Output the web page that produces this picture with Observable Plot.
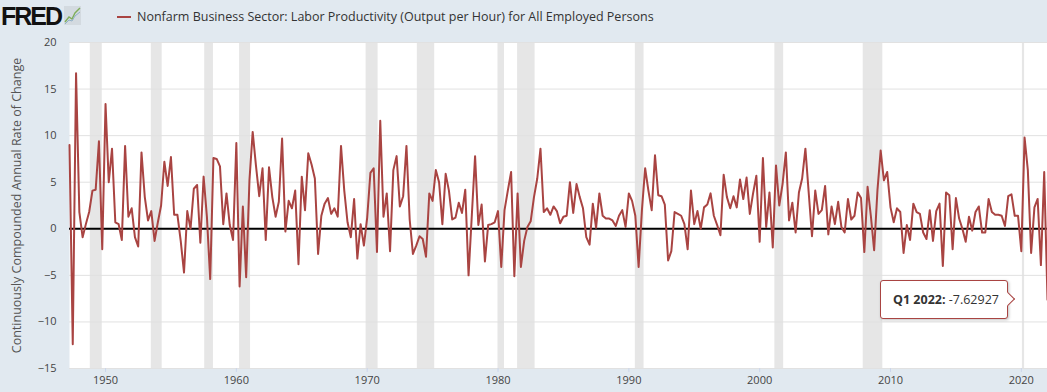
<!DOCTYPE html>
<html>
<head>
<meta charset="utf-8">
<script src="https://cdn.jsdelivr.net/npm/d3@7"></script>
<script src="https://cdn.jsdelivr.net/npm/@observablehq/plot@0.6"></script>
<style>
  html, body { margin: 0; padding: 0; background: #e1e9f0; }
  #wrap { position: relative; width: 1047px; height: 392px; background: #e1e9f0; font-family: "Open Sans", sans-serif; overflow: hidden; }
  #header { height: 34px; position: relative; }
  #logo { position: absolute; left: 1px; top: 2px; font-family: "Liberation Sans", Arial, sans-serif; font-weight: 900; font-size: 25px; letter-spacing: -2px; color: #111; }
  #icon { position: absolute; left: 64px; top: 4px; }
  #legend { position: absolute; left: 117px; top: 8px; font-size: 12.5px; color: #333; white-space: nowrap; }
  #legend .sw { display: inline-block; width: 14px; height: 2px; background: #a94442; vertical-align: middle; margin-right: 6px; position: relative; top: -1px; }
  #tip { position: absolute; background: #fff; border: 1px solid #a94442; border-radius: 3px; box-shadow: 1px 1px 3px rgba(0,0,0,0.25); font-size: 12.5px; color: #333; box-sizing: border-box; padding: 0 0 0 12px; white-space: nowrap; }
  #tip .arrow { position: absolute; right: -6px; top: 13px; width: 9px; height: 9px; background: #fff; border-right: 1px solid #a94442; border-top: 1px solid #a94442; transform: rotate(45deg); }
</style>
</head>
<body>
<div id="wrap">
  <div id="header">
    <div id="logo">FRED</div>
    <svg id="icon" width="17" height="22" viewBox="0 0 17 22">
      <rect x="0" y="2" width="17" height="19" fill="#d3dae0"/>
      <polyline points="1,18 5,13 8,15 11,9 16,4" fill="none" stroke="#7fae5a" stroke-width="1.4"/>
      <polyline points="1,20 5,16 8,17 11,12 16,8" fill="none" stroke="#8fb0c8" stroke-width="1"/>
    </svg>
    <div id="legend"><span class="sw"></span>Nonfarm Business Sector: Labor Productivity (Output per Hour) for All Employed Persons</div>
  </div>
  <div id="chart"></div>
</div>
<script>
// Quarterly series, first observation 1947 Q2, last 2022 Q1
const firstObservation = "1947-04-01";
const productivity = [
  9.0, -12.4, 16.7, 1.8, -0.9, 0.5, 1.8, 4.1, 4.2, 9.4,
  -2.2, 13.4, 5.0, 8.6, 0.7, 0.5, -1.2, 8.9, 1.3, 2.2,
  -0.9, -1.9, 8.2, 3.4, 0.9, 1.9, -1.3, 0.7, 2.5, 7.2,
  4.6, 7.7, 1.5, 1.5, -1.3, -4.7, 1.9, 0.0, 4.3, 4.7,
  -1.5, 5.6, 1.3, -5.4, 7.6, 7.5, 6.7, 0.5, 3.8, 0.4,
  -1.2, 9.2, -6.2, 2.4, -5.2, 5.2, 10.4, 6.8, 3.5, 6.5,
  -1.2, 6.6, 3.4, 1.3, 2.9, 9.7, -0.3, 3.0, 2.2, 4.1,
  -3.8, 5.6, 2.0, 8.1, 6.9, 5.4, -2.7, 1.4, 2.7, 3.3,
  1.6, 2.2, 1.3, 8.9, 4.1, 0.7, -0.9, 3.2, -3.2, 0.5,
  -1.8, 1.2, 6.0, 6.5, -2.5, 11.6, 1.3, 3.8, -2.4, 6.3,
  7.8, 2.4, 3.5, 8.9, 1.0, -2.7, -1.8, -0.8, -1.1, -3.0,
  3.8, 3.0, 6.3, 5.0, 0.5, 5.9, 4.1, 1.0, 1.2, 2.8,
  1.7, 4.2, -5.0, 1.5, 7.8, 0.4, 2.6, -3.5, 0.4, 0.5,
  0.7, 1.9, -4.1, 2.0, 4.1, 6.1, -5.1, 3.8, -4.1, -1.3,
  0.2, 0.8, 3.4, 5.4, 8.6, 1.8, 2.2, 1.5, 2.4, 1.9,
  0.6, 1.3, 1.4, 5.0, 1.7, 4.8, 3.4, 2.2, -0.9, -1.7,
  2.7, 0.1, 3.8, 1.4, 1.1, 1.1, 0.9, 0.3, 1.4, 2.0,
  0.2, 3.8, 3.0, 1.4, -4.1, 2.0, 6.5, 4.1, 2.0, 7.9,
  3.6, 3.5, 2.6, -3.4, -2.4, 1.8, 1.6, 1.4, 0.5, -2.2,
  4.1, 0.5, 1.9, 0.0, 2.3, 2.6, 3.8, 1.4, 0.4, -0.7,
  5.8, 3.4, 2.2, 3.5, 2.3, 5.3, 3.2, 5.5, 1.6, 3.8,
  5.7, -1.4, 7.6, 0.2, 3.9, -2.0, 6.8, 2.5, 4.8, 8.2,
  0.9, 2.8, -0.4, 3.9, 5.4, 8.6, 3.9, -0.8, 4.1, 1.6,
  2.0, 4.6, -0.6, 2.4, 0.5, 2.9, 0.2, -0.4, 3.2, 1.0,
  1.4, 3.9, 3.3, -2.5, 4.5, 1.4, -2.3, 4.1, 8.4, 5.2,
  6.1, 2.3, 0.7, 2.2, 1.8, -2.6, 0.4, -1.2, 2.7, 1.8,
  1.6, -0.4, -1.1, 2.0, -1.3, 1.9, 2.7, -4.0, 3.9, 3.6,
  -2.2, 3.3, 1.1, 0.0, -1.4, 1.3, -0.2, 1.8, 2.4, -0.4,
  -0.4, 3.2, 1.8, 1.5, 1.5, 1.4, 0.3, 3.5, 3.7, 1.4,
  1.4, -2.4, 9.8, 6.3, -2.6, 2.3, 3.2, -3.9, 6.1, -7.62927
];
const recessionStarts = ["1948-11-01","1953-07-01","1957-08-01","1960-04-01","1969-12-01","1973-11-01","1980-01-01","1981-07-01","1990-07-01","2001-03-01","2007-12-01","2020-02-01"];
const recessionEnds   = ["1949-10-01","1954-05-01","1958-04-01","1961-02-01","1970-11-01","1975-03-01","1980-07-01","1982-11-01","1991-03-01","2001-11-01","2009-06-01","2020-04-01"];
const xTickYears = [1950, 1960, 1970, 1980, 1990, 2000, 2010, 2020];
const yTicks = [-15, -10, -5, 0, 5, 10, 15, 20];
const seriesTitle = "Nonfarm Business Sector: Labor Productivity (Output per Hour) for All Employed Persons";
const yLabel = "Continuously Compounded Annual Rate of Change";

const start = new Date(firstObservation + "T00:00:00Z");
const series = productivity.map((v, i) => ({date: d3.utcMonth.offset(start, 3 * i), value: v}));
const recessions = recessionStarts.map((s, i) => ({start: new Date(s + "T00:00:00Z"), end: new Date(recessionEnds[i] + "T00:00:00Z")}));
const last = series[series.length - 1];
const xTickDates = xTickYears.map(y => new Date(Date.UTC(y, 0, 1)));

const chart = Plot.plot({
  width: 1047,
  height: 358,
  marginLeft: 69,
  marginRight: 0,
  marginTop: 8,
  marginBottom: 24,
  style: {background: "transparent", fontFamily: "'Open Sans', sans-serif", fontSize: "11px", color: "#444"},
  x: {type: "utc", domain: [start, last.date], label: null},
  y: {domain: [-15, 20], label: yLabel},
  marks: [
    Plot.frame({fill: "white", stroke: null}),
    Plot.rect(recessions, {x1: "start", x2: "end", fill: "#e6e6e6"}),
    Plot.gridY(yTicks, {stroke: "#e1e1e1", strokeOpacity: 1}),
    Plot.ruleY([0], {stroke: "#000", strokeWidth: 2}),
    Plot.line(series, {x: "date", y: "value", stroke: "#a94442", strokeWidth: 2, curve: "linear"}),
    Plot.axisX({ticks: xTickDates, tickFormat: d3.utcFormat("%Y"), tickSize: 4, tickPadding: 4, stroke: "#ccd6eb", fill: "#444", fontSize: 11, label: null}),
    Plot.axisY({ticks: yTicks, tickSize: 0, tickPadding: 13, fill: "#444", fontSize: 11, label: yLabel, labelAnchor: "center", labelArrow: "none", labelOffset: 57})
  ]
});
chart.querySelectorAll("text").forEach(t => t.setAttribute("fill", "#444"));
document.getElementById("chart").appendChild(chart);

// y-axis label font
chart.querySelectorAll("[aria-label='y-axis label']").forEach(g => { g.setAttribute("font-size", "12.5px"); g.querySelectorAll("text").forEach(t => { t.setAttribute("fill", "#555"); t.style.fontSize = "12.5px"; }); });

// tooltip for last observation
const px = chart.scale("x").apply(last.date);
const py = chart.scale("y").apply(last.value) + 34;
const q = Math.floor(last.date.getUTCMonth() / 3) + 1;
const tip = document.createElement("div");
tip.id = "tip";
tip.style.left = (px - 167) + "px";
tip.style.top = (py - 19) + "px";
tip.style.width = "128px";
tip.style.height = "39px";
tip.style.lineHeight = "37px";
tip.innerHTML = `<b>Q${q} ${last.date.getUTCFullYear()}:</b> ${last.value}<span class="arrow"></span>`;
document.getElementById("wrap").appendChild(tip);
</script>
</body>
</html>
